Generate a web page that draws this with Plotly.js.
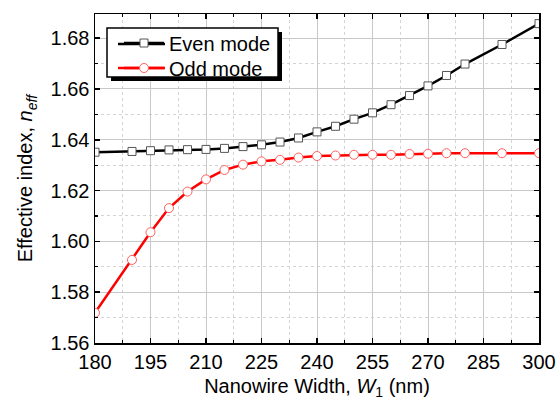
<!DOCTYPE html>
<html>
<head>
<meta charset="utf-8">
<script src="https://cdn.plot.ly/plotly-3.0.1.min.js"></script>
<style>html,body{margin:0;padding:0;background:#fff;}#chart{width:556px;height:400px;}</style>
</head>
<body>
<div id="chart"></div>
<script>
const widthNm = [180, 190, 195, 200, 205, 210, 215, 220, 225, 230, 235, 240, 245, 250, 255, 260, 265, 270, 275, 280, 290, 300];
const evenMode = [1.6351, 1.6354, 1.6357, 1.6360, 1.6361, 1.6362, 1.6366, 1.6373, 1.6380, 1.6391, 1.6407, 1.6431, 1.6453, 1.6481, 1.6506, 1.6538, 1.6574, 1.6612, 1.6653, 1.6698, 1.6775, 1.6857];
const oddWidthNm = [180, 190, 195, 200, 205, 210, 215, 220, 225, 230, 235, 240, 245, 250, 255, 260, 265, 270, 275, 280, 290, 300];
const oddMode = [1.5719, 1.5927, 1.6036, 1.6131, 1.6196, 1.6244, 1.6281, 1.6302, 1.6315, 1.6321, 1.6330, 1.6336, 1.6338, 1.6341, 1.6341, 1.6341, 1.6344, 1.6345, 1.6347, 1.6347, 1.6347, 1.6347];
const xTicks = [180, 195, 210, 225, 240, 255, 270, 285, 300];
const yTicks = [1.56, 1.58, 1.60, 1.62, 1.64, 1.66, 1.68];

const FONT = 'Liberation Sans, Arial, sans-serif';
const W = 556, H = 400, ML = 95, MR = 17, MT = 14, MB = 57;
const PW = W - ML - MR, PH = H - MT - MB;
const px = v => (v - ML) / PW;
const py = v => 1 - (v - MT) / PH;

const traces = [
  {
    x: widthNm, y: evenMode, name: 'Even mode', type: 'scatter', mode: 'lines+markers', legend: 'legend',
    line: {color: '#000000', width: 2.5},
    marker: {symbol: 'square', size: 8, color: '#ffffff', line: {color: '#555555', width: 1}}
  },
  {
    x: oddWidthNm, y: oddMode, name: 'Odd mode', type: 'scatter', mode: 'lines+markers', legend: 'legend2',
    line: {color: '#ff0000', width: 2.5},
    marker: {symbol: 'circle', size: 9, color: '#ffffff', line: {color: '#ff6060', width: 1}}
  }
];

const legendCommon = {
  xanchor: 'left', yanchor: 'middle', bgcolor: 'rgba(0,0,0,0)', borderwidth: 0,
  font: {family: FONT, size: 20, color: '#000000'}, itemwidth: 40
};

const layout = {
  width: W, height: H,
  margin: {l: ML, r: MR, t: MT, b: MB},
  paper_bgcolor: '#ffffff', plot_bgcolor: '#ffffff',
  font: {family: FONT, color: '#000000', size: 20},
  showlegend: true,
  legend: Object.assign({x: px(119), y: py(43)}, legendCommon),
  legend2: Object.assign({x: px(119), y: py(68)}, legendCommon),
  xaxis: {
    range: [180, 300], tickvals: xTicks, ticktext: xTicks.map(String),
    showline: true, linecolor: '#000000', linewidth: 1.5, mirror: 'allticks',
    ticks: 'inside', ticklen: 5, tickcolor: '#000000', tickwidth: 1.5,
    showgrid: true, gridcolor: '#c8c8c8', gridwidth: 1, zeroline: false,
    tickfont: {family: FONT, size: 20},
    minor: {dtick: 7.5, tick0: 180, ticks: 'inside', ticklen: 3, tickcolor: '#000000', tickwidth: 1.2, showgrid: true, gridcolor: '#d4d4d4', griddash: 'dot', gridwidth: 1},
    title: {text: 'Nanowire Width, <i>W</i><sub>1</sub> (nm)', font: {family: FONT, size: 20}, standoff: 21}
  },
  yaxis: {
    range: [1.56, 1.6895], tickvals: yTicks, ticktext: yTicks.map(v => v.toFixed(2)),
    showline: true, linecolor: '#000000', linewidth: 1.5, mirror: 'allticks',
    ticks: 'inside', ticklen: 5, tickcolor: '#000000', tickwidth: 1.5,
    showgrid: true, gridcolor: '#c8c8c8', gridwidth: 1, zeroline: false,
    tickfont: {family: FONT, size: 20},
    minor: {dtick: 0.01, tick0: 1.56, ticks: 'inside', ticklen: 3, tickcolor: '#000000', tickwidth: 1.2, showgrid: true, gridcolor: '#d4d4d4', griddash: 'dot', gridwidth: 1},
    title: {text: 'Effective index, <i>n</i><sub><i>eff</i></sub>', font: {family: FONT, size: 20}, standoff: 12}
  },
  shapes: [
    {type: 'rect', xref: 'paper', yref: 'paper', layer: 'above',
     x0: px(111), x1: px(282), y0: py(81), y1: py(32),
     fillcolor: '#000000', line: {width: 0}},
    {type: 'rect', xref: 'paper', yref: 'paper', layer: 'above',
     x0: px(107), x1: px(278), y0: py(77), y1: py(28),
     fillcolor: '#ffffff', line: {color: '#000000', width: 1.5}},
    {type: 'line', xref: 'paper', yref: 'paper', layer: 'above',
     x0: px(118), x1: px(165), y0: py(44), y1: py(44), line: {color: '#000000', width: 2.5}},
    {type: 'line', xref: 'paper', yref: 'paper', layer: 'above',
     x0: px(118), x1: px(165), y0: py(68), y1: py(68), line: {color: '#ff0000', width: 2.5}}
  ]
};

Plotly.newPlot('chart', traces, layout, {staticPlot: true, displayModeBar: false});
</script>
</body>
</html>
